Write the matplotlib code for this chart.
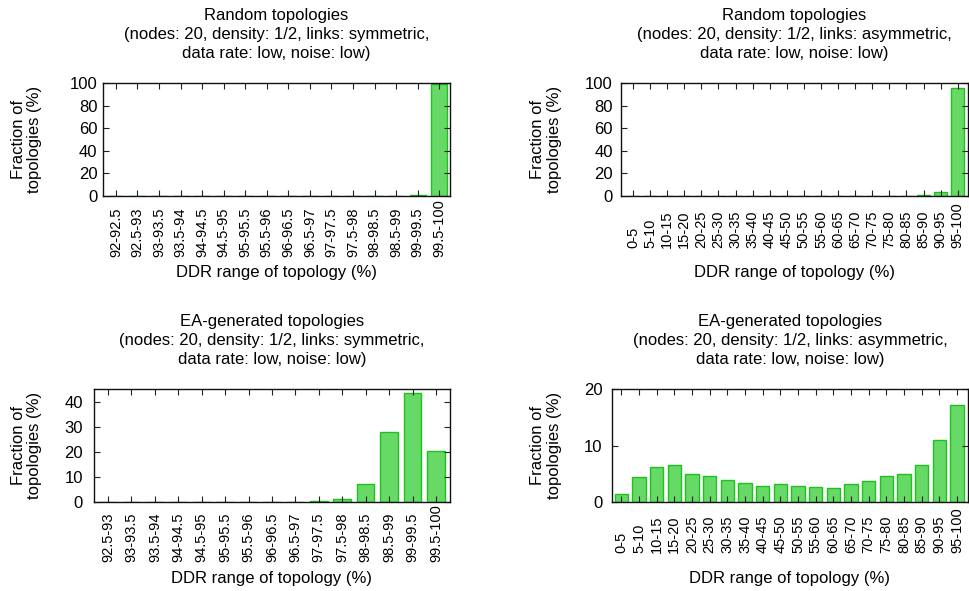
import matplotlib
matplotlib.use("Agg")
import matplotlib.pyplot as plt

plt.rcParams['font.family'] = ['Liberation Sans', 'DejaVu Sans']
plt.rcParams['font.size'] = 12

# --- data ---
fine_sym_rand = ['92-92.5', '92.5-93', '93-93.5', '93.5-94', '94-94.5', '94.5-95',
                 '95-95.5', '95.5-96', '96-96.5', '96.5-97', '97-97.5', '97.5-98',
                 '98-98.5', '98.5-99', '99-99.5', '99.5-100']
rand_sym = [0, 0, 0, 0, 0, 0, 0, 0, 0, 0, 0, 0, 0, 0.2, 0.6, 99.2]

coarse = ['0-5', '5-10', '10-15', '15-20', '20-25', '25-30', '30-35', '35-40',
          '40-45', '45-50', '50-55', '55-60', '60-65', '65-70', '70-75', '75-80',
          '80-85', '85-90', '90-95', '95-100']
rand_asym = [0, 0, 0, 0, 0, 0, 0, 0, 0, 0, 0, 0, 0, 0, 0, 0, 0.3, 0.6, 3.7, 95.5]

fine_sym_ea = ['92.5-93', '93-93.5', '93.5-94', '94-94.5', '94.5-95', '95-95.5',
               '95.5-96', '96-96.5', '96.5-97', '97-97.5', '97.5-98', '98-98.5',
               '98.5-99', '99-99.5', '99.5-100']
ea_sym = [0.1, 0, 0, 0, 0.1, 0, 0, 0, 0.1, 0.2, 1.2, 7.0, 28.0, 43.5, 20.5]

ea_asym = [1.35, 4.5, 6.2, 6.6, 5.0, 4.6, 3.9, 3.4, 2.9, 3.2, 2.8, 2.7, 2.5,
           3.1, 3.8, 4.6, 4.9, 6.6, 11.0, 17.2]

sub_sym = '(nodes: 20, density: 1/2, links: symmetric,\ndata rate: low, noise: low)'
sub_asym = '(nodes: 20, density: 1/2, links: asymmetric,\ndata rate: low, noise: low)'

panels = [
    # px = left, top, right, bottom of the plot area in pixels
    dict(px=(103, 83, 450, 196), labels=fine_sym_rand, vals=rand_sym,
         title='Random topologies\n' + sub_sym, ylim=100,
         yticks=[0, 20, 40, 60, 80, 100], xlim=(-0.6, 15.5), xpad=44, ypad=4),
    dict(px=(621, 83, 968, 196), labels=coarse, vals=rand_asym,
         title='Random topologies\n' + sub_asym, ylim=100,
         yticks=[0, 20, 40, 60, 80, 100], xlim=(-0.7, 19.6), xpad=37.4, ypad=6),
    dict(px=(94, 389, 450, 502), labels=fine_sym_ea, vals=ea_sym,
         title='EA-generated topologies\n' + sub_sym, ylim=45,
         yticks=[0, 10, 20, 30, 40], xlim=(-0.6, 14.6), xpad=43, ypad=8),
    dict(px=(612, 389, 968, 502), labels=coarse, vals=ea_asym,
         title='EA-generated topologies\n' + sub_asym, ylim=20,
         yticks=[0, 10, 20], xlim=(-0.53, 19.62), xpad=36.7, ypad=7),
]

W, H = 970, 591
fig = plt.figure(figsize=(W / 100, H / 100), dpi=100)

for p in panels:
    l, t, r, b = p['px']
    ax = fig.add_axes([l / W, 1 - b / H, (r - l) / W, (b - t) / H])
    x = list(range(len(p['labels'])))
    ax.bar(x, p['vals'], width=0.75, color='#66d966', edgecolor='#1fc01f',
           linewidth=1.0)
    ax.set_xlim(*p['xlim'])
    ax.set_ylim(0, p['ylim'])
    ax.set_yticks(p['yticks'])
    ax.set_xticks(x)
    ax.set_xticklabels(p['labels'], rotation=90, va='bottom', ha='center',
                       fontsize=10.5)
    ax.tick_params(axis='both', direction='in', length=4, width=0.8,
                   top=True, right=True, colors='#222222', labelcolor='black')
    ax.tick_params(axis='x', pad=p['xpad'])
    ax.tick_params(axis='y', pad=p['ypad'])
    for s in ax.spines.values():
        s.set_linewidth(1.0)
        s.set_color('#111111')
    ax.set_title(p['title'], pad=18, linespacing=1.35, fontsize=12)
    ax.set_ylabel('Fraction of\ntopologies (%)', ha='center', va='center',
                  multialignment='center', linespacing=1.13)
    ax.yaxis.set_label_coords((546 - l if l > 485 else 26.5 - l) / (r - l), 0.5)
    ax.set_xlabel('DDR range of topology (%)', va='center')
    ax.xaxis.set_label_coords(0.5, -77 / (b - t))

fig.savefig('out.png', dpi=100)
